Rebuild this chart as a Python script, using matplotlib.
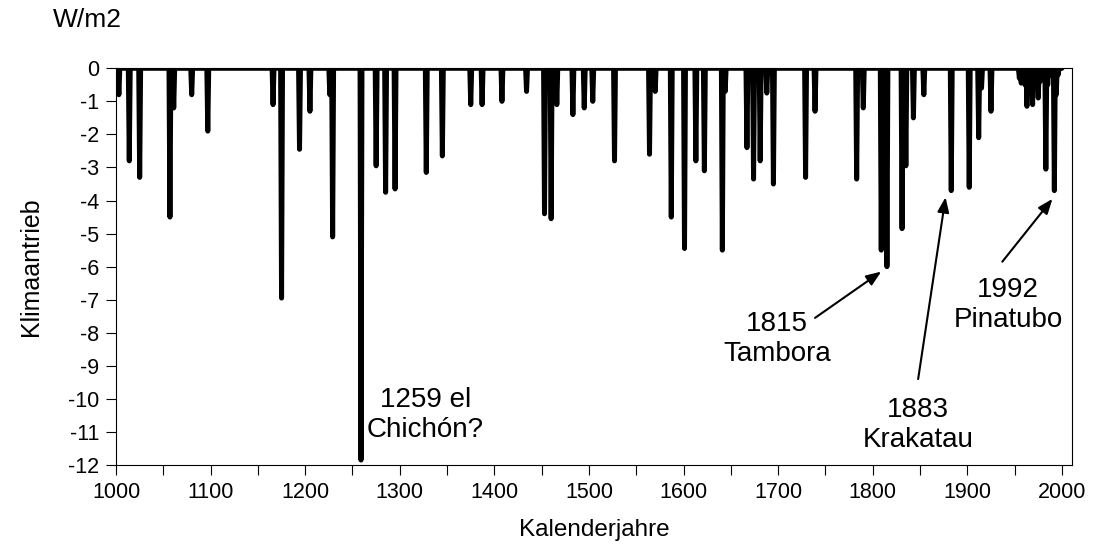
import numpy as np
import matplotlib
matplotlib.use('Agg')
import matplotlib.pyplot as plt

# Jahre mit vulkanischem Antrieb (W/m2), alle anderen Jahre = 0
jahre = [1003, 1014, 1025, 1057, 1061, 1080, 1097, 1166, 1175, 1194,
         1205, 1226, 1229, 1259, 1275, 1285, 1295, 1328, 1345, 1375,
         1387, 1408, 1434, 1453, 1460, 1466, 1483, 1495, 1504, 1527,
         1564, 1570, 1587, 1601, 1613, 1622, 1641, 1644, 1667, 1674,
         1681, 1688, 1695, 1729, 1739, 1783, 1790, 1809, 1815, 1831,
         1835, 1843, 1854, 1883, 1902, 1912, 1915, 1925,
         1955, 1957, 1959, 1961, 1963, 1965, 1967, 1969, 1971, 1973,
         1975, 1977, 1979, 1981, 1983, 1985, 1987, 1989, 1992, 1994, 1996]
antrieb = [-0.8, -2.8, -3.3, -4.5, -1.2, -0.8, -1.9, -1.1, -6.95, -2.45,
           -1.3, -0.8, -5.1, -11.85, -2.95, -3.75, -3.65, -3.15, -2.65, -1.1,
           -1.1, -1.0, -0.7, -4.4, -4.55, -1.1, -1.4, -1.2, -1.0, -2.8,
           -2.6, -0.7, -4.5, -5.45, -2.8, -3.1, -5.5, -0.7, -2.4, -3.35,
           -2.8, -0.75, -3.5, -3.3, -1.3, -3.35, -1.2, -5.5, -6.0, -4.85,
           -2.95, -1.5, -0.8, -3.7, -3.6, -2.1, -0.6, -1.3,
           -0.3, -0.45, -0.2, -0.5, -1.15, -0.6, -0.4, -1.1, -0.5, -0.4,
           -0.9, -0.4, -0.2, -0.3, -3.05, -0.5, -0.2, -0.2, -3.7, -0.8, -0.2]

# Beschriftungen: Text, Textposition (Jahr, Wert), Pfeil (Start, Ziel)
notiz_text = ['1259 el\nChichón?', '1815\nTambora', '1883\nKrakatau',
              '1992\nPinatubo']
notiz_pos = [(1327, -10.5), (1699, -8.2), (1848, -10.8), (1943, -7.15)]
pfeil_start = [(1739, -7.55), (1848, -9.4), (1937, -5.85)]
pfeil_ziel = [(1809, -6.15), (1877, -3.9), (1990, -3.95)]

alle_jahre = np.arange(1000, 2001)
werte = np.zeros(len(alle_jahre))
for j, w in zip(jahre, antrieb):
    werte[j - 1000] = w

plt.rcParams['font.family'] = ['Liberation Sans', 'DejaVu Sans']
plt.rcParams['axes.unicode_minus'] = False

fig = plt.figure(figsize=(11.05, 5.52), dpi=100)
ax = fig.add_axes([0.105, 0.1576, 0.865, 0.7187])

ax.plot(alle_jahre, werte, color='black', lw=3.6,
        solid_joinstyle='round', solid_capstyle='round')

ax.set_xlim(1000, 2010.5)
ax.set_ylim(-12, 0)
ax.set_xticks(range(1000, 2001, 100))
ax.set_xticks(range(1050, 2001, 100), minor=True)
ax.set_yticks(range(-12, 1))
ax.tick_params(axis='both', which='both', direction='out', length=7,
               width=0.8, labelsize=15.5, pad=5)
for s in ax.spines.values():
    s.set_linewidth(0.8)

ax.set_xlabel('Kalenderjahre', fontsize=17.5, labelpad=12)
ax.set_ylabel('Klimaantrieb', fontsize=18, labelpad=18)
fig.text(0.079, 0.963, 'W/m2', fontsize=19, ha='center', va='center')

for t, p in zip(notiz_text, notiz_pos):
    ax.text(p[0], p[1], t, fontsize=20, ha='center', va='center',
            linespacing=1.2)
for a, b in zip(pfeil_start, pfeil_ziel):
    ax.annotate('', xy=b, xytext=a,
                arrowprops=dict(arrowstyle='-|>,head_length=0.9,head_width=0.35',
                                color='black', lw=1.5, shrinkA=0, shrinkB=0))

fig.savefig('out.png', dpi=100)
